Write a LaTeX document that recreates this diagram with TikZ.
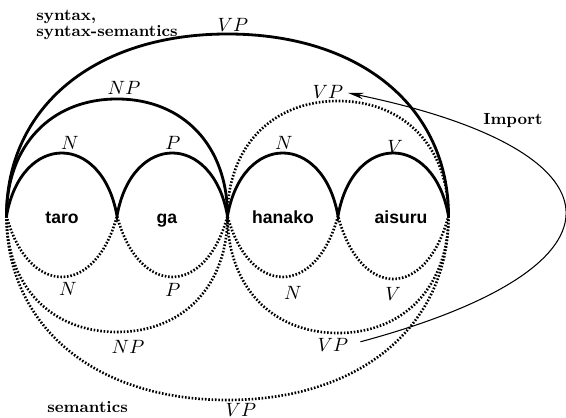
\documentclass[tikz,border=0pt]{standalone}
\usepackage{fontspec}
\newfontfamily\wordfont{Liberation Sans}
\usetikzlibrary{arrows.meta}

\tikzset{
  syn/.style={line width=1.6pt},
  sem/.style={line width=1.5pt, dash pattern=on 0.9pt off 1pt},
  lab/.style={inner sep=0pt, font=\fontsize{10.5}{12}\selectfont},
  word/.style={inner sep=0pt, anchor=base, font=\wordfont\bfseries\fontsize{10}{12}\selectfont},
  level/.style={inner sep=0pt, align=left, font=\bfseries\fontsize{9.2}{6.8}\selectfont},
  import/.style={line width=0.6pt, shorten <=7pt, shorten >=2.5pt,
    -{Stealth[length=9pt,width=3.6pt]}},
}
% wide arch of half width #1 and height #2 from the current point
\newcommand\archto[2]{.. controls +(0,#2*.6) and +(-#1*.6,0) .. ++(#1,#2)
  .. controls +(#1*.6,0) and +(0,#2*.6) ..}
% small bump, control offsets #1 (x) and #2 (y)
\newcommand\bumpto[2]{.. controls +(#1,#2) and +(-#1,#2) ..}

\begin{document}
\begin{tikzpicture}[x=0.02cm, y=-0.02cm]
  \useasboundingbox (0,0) rectangle (566,418);

  % word boundaries
  \coordinate (p0) at (6.5,216);
  \coordinate (p1) at (117,216);
  \coordinate (p2) at (227.5,216);
  \coordinate (p3) at (338,216);
  \coordinate (p4) at (448.5,216);

  \node[word] (taro) at (62,224) {taro};
  \node[word] (ga) at (167,224) {ga};
  \node[word] (hanako) at (283,224) {hanako};
  \node[word] (aisuru) at (401,224) {aisuru};

  % syntax: upper arcs
  \draw[syn] (p0) \bumpto{14.8}{-84} (p1) \bumpto{14.8}{-84} (p2)
    \bumpto{14.8}{-84} (p3) \bumpto{14.8}{-84} (p4);
  \draw[syn] (p0) \archto{110.5}{-117} (p2);
  \draw[syn] (p0) \archto{221}{-182} (p4);
  \draw[sem] (p2) \archto{110.5}{-115} (p4);

  % semantics: lower arcs
  \draw[sem] (p0) \bumpto{21.8}{81.3} (p1) \bumpto{21.8}{81.3} (p2)
    \bumpto{21.8}{81.3} (p3) \bumpto{22.5}{84} (p4);
  \draw[sem] (p0) \archto{110.5}{116} (p2);
  \draw[sem] (p2) \archto{110.5}{117} (p4);
  \draw[sem] (p0) \archto{221}{184} (p4);

  \node[lab] (nU1) at (70,143) {$N$};
  \node[lab] (pU) at (173,143) {$P$};
  \node[lab] (nU2) at (284,143) {$N$};
  \node[lab] (vU) at (395,147) {$V$};
  \node[lab] (npU) at (124,88) {$NP$};
  \node[lab] (vpTop) at (233,25) {$VP$};
  \node[lab] (vpU) at (328,92) {$VP$};

  \node[lab] (nL1) at (68,289) {$N$};
  \node[lab] (pL) at (173,290) {$P$};
  \node[lab] (nL2) at (293,293) {$N$};
  \node[lab] (vL) at (393,294) {$V$};
  \node[lab] (npL) at (128,347) {$NP$};
  \node[lab] (vpL) at (333,345) {$VP$};
  \node[lab] (vpBot) at (241,410) {$VP$};

  \node[level, anchor=north west] (synt) at (36,10) {syntax,\\syntax-semantics};
  \node[level, anchor=base west] (semt) at (47,413) {semantics};
  \node[level, anchor=base west] (imp) at (483,125) {Import};

  \draw[import] (vpL.east) .. controls (645,265) and (625,150) .. (vpU.east);
\end{tikzpicture}
\end{document}
